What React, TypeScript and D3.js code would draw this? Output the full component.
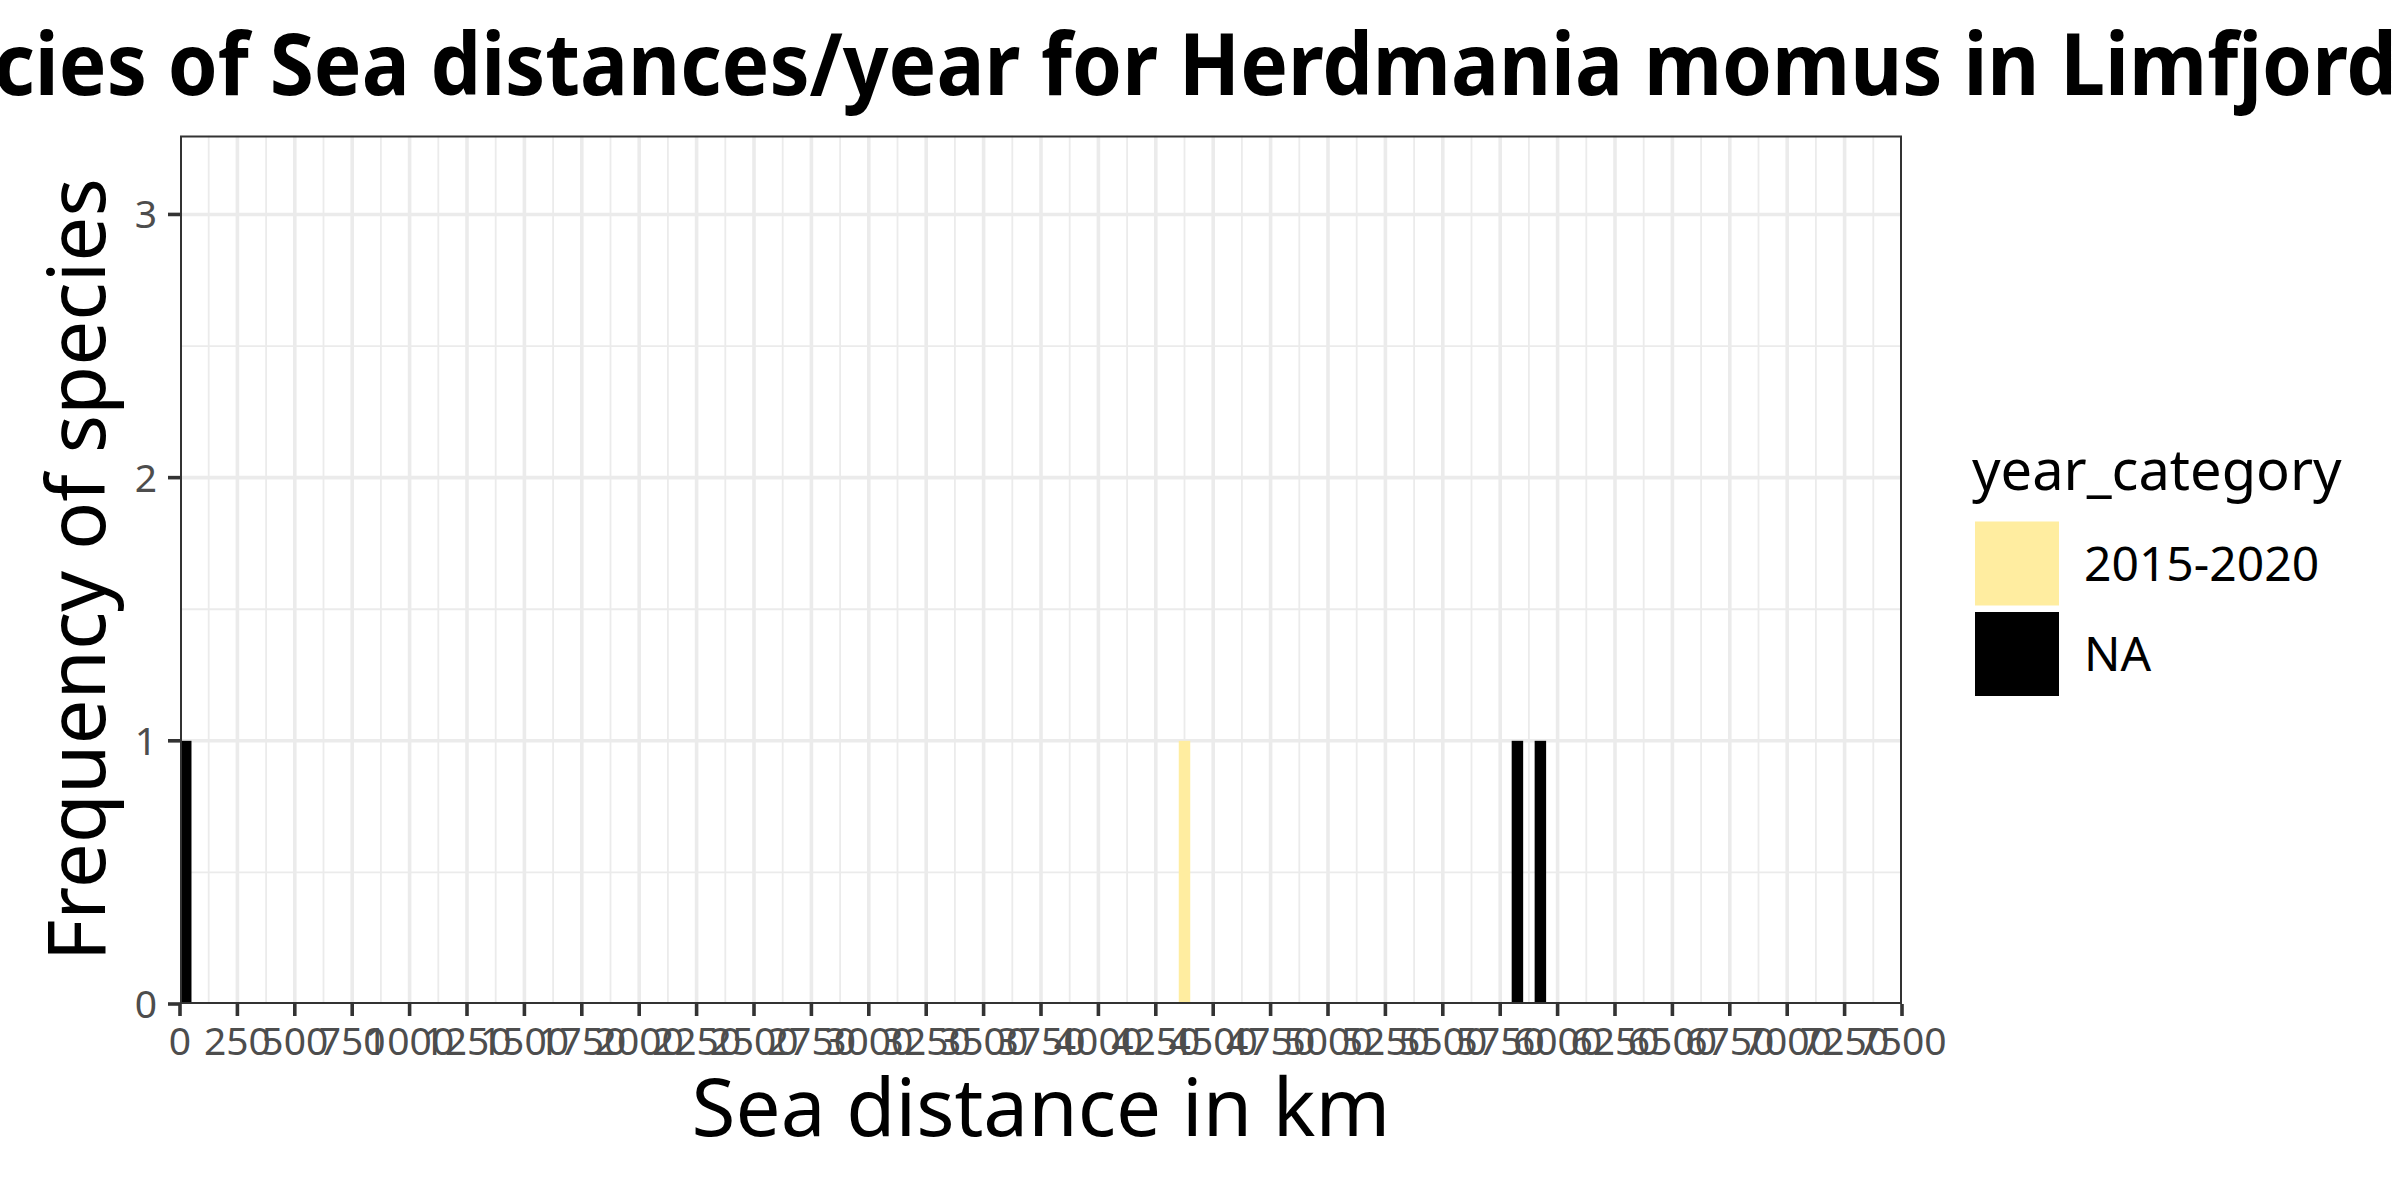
import React from 'react';
import * as d3 from 'd3';

const TITLE = 'Frequencies of Sea distances/year for Herdmania momus in Limfjord';
const X_TITLE = 'Sea distance in km';
const Y_TITLE = 'Frequency of species';
const LEGEND_TITLE = 'year_category';

const categories = ['2015-2020', 'NA'];
const categoryColors = ['#FFEDA0', '#000000'];

const binStarts = [0, 4350, 5800, 5900];
const binCounts = [1, 1, 1, 1];
const binCategories = ['NA', '2015-2020', 'NA', 'NA'];
const BIN_WIDTH = 50;

const xTicks = [0, 250, 500, 750, 1000, 1250, 1500, 1750, 2000, 2250, 2500, 2750, 3000, 3250, 3500, 3750, 4000, 4250, 4500, 4750, 5000, 5250, 5500, 5750, 6000, 6250, 6500, 6750, 7000, 7250, 7500];
const yTicks = [0, 1, 2, 3];
const yMinor = [0.5, 1.5, 2.5];

const W = 2400;
const H = 1200;
const P = { left: 180, right: 1902, top: 135.5, bottom: 1004 };
const FONT = '"Noto Sans", "Open Sans", sans-serif';

export default function App() {
  const x = d3.scaleLinear().domain([0, 7500]).range([P.left, P.right]);
  const y = d3.scaleLinear().domain([0, 3.3]).range([P.bottom, P.top]);
  const color = d3.scaleOrdinal<string, string>().domain(categories).range(categoryColors);
  const xMinor = d3.pairs(xTicks).map(([a, b]) => (a + b) / 2);
  const bars = binStarts.map((s, i) => ({ s, c: binCounts[i], cat: binCategories[i] }));

  const gridCol = '#EBEBEB';
  const axCol = '#333333';
  const txtCol = '#4D4D4D';

  return (
    <svg width={W} height={H} style={{ position: 'absolute', left: 0, top: 0, background: '#fff' }} fontFamily={FONT}>
      <rect x={0} y={0} width={W} height={H} fill="#fff" />
      <defs>
        <clipPath id="panel">
          <rect x={P.left} y={P.top} width={P.right - P.left} height={P.bottom - P.top} />
        </clipPath>
      </defs>
      <g clipPath="url(#panel)">
        {xMinor.map((v) => (
          <line key={'xm' + v} x1={x(v)} x2={x(v)} y1={P.top} y2={P.bottom} stroke={gridCol} strokeWidth={1.8} />
        ))}
        {yMinor.map((v) => (
          <line key={'ym' + v} x1={P.left} x2={P.right} y1={y(v)} y2={y(v)} stroke={gridCol} strokeWidth={1.8} />
        ))}
        {xTicks.map((v) => (
          <line key={'xg' + v} x1={x(v)} x2={x(v)} y1={P.top} y2={P.bottom} stroke={gridCol} strokeWidth={3.6} />
        ))}
        {yTicks.map((v) => (
          <line key={'yg' + v} x1={P.left} x2={P.right} y1={y(v)} y2={y(v)} stroke={gridCol} strokeWidth={3.6} />
        ))}
        {bars.map((b, i) => (
          <rect key={'b' + i} x={x(b.s)} width={x(b.s + BIN_WIDTH) - x(b.s)} y={y(b.c)} height={y(0) - y(b.c)} fill={color(b.cat)} />
        ))}
        <rect x={P.left} y={P.top} width={P.right - P.left} height={P.bottom - P.top} fill="none" stroke={axCol} strokeWidth={4} />
      </g>
      {/* ticks */}
      {xTicks.map((v) => (
        <g key={'xt' + v}>
          <line x1={x(v)} x2={x(v)} y1={P.bottom} y2={P.bottom + 12} stroke={axCol} strokeWidth={3.6} />
          <text x={x(v)} y={1055} textAnchor="middle" fontSize={39} fill={txtCol}>{v}</text>
        </g>
      ))}
      {yTicks.map((v) => (
        <g key={'yt' + v}>
          <line x1={P.left - 12} x2={P.left} y1={y(v)} y2={y(v)} stroke={axCol} strokeWidth={3.6} />
          <text x={157} y={y(v) + 14} textAnchor="end" fontSize={39} fill={txtCol}>{v}</text>
        </g>
      ))}
      {/* titles */}
      <text transform="translate(2397, 95) scale(0.932, 1)" textAnchor="end" fontSize={86} fontWeight="bold" fill="#000">{TITLE}</text>
      <text x={(P.left + P.right) / 2} y={1136} textAnchor="middle" fontSize={80} fill="#000">{X_TITLE}</text>
      <text transform={`translate(105, ${(P.top + P.bottom) / 2}) rotate(-90)`} textAnchor="middle" fontSize={80} fill="#000">{Y_TITLE}</text>
      {/* legend */}
      <text x={1972} y={490} fontSize={56} fill="#000">{LEGEND_TITLE}</text>
      {categories.map((c, i) => (
        <g key={'lg' + c} transform={`translate(1975, ${521.5 + i * 90.5})`}>
          <rect x={0} y={0} width={84} height={84} fill={color(c)} />
          <text x={109} y={42 + 17} fontSize={48} fill="#000">{c}</text>
        </g>
      ))}
    </svg>
  );
}
